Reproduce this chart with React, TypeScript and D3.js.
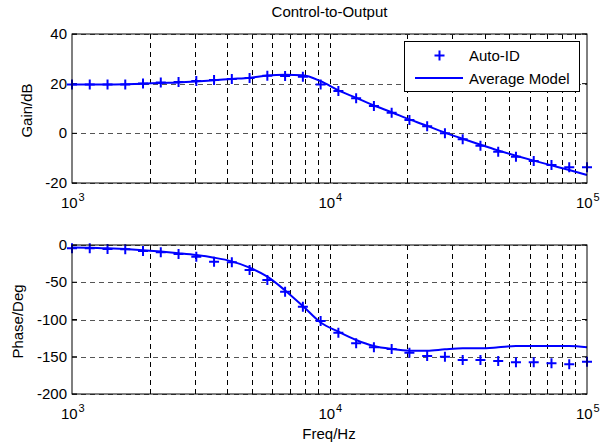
import React, { useEffect, useRef } from "react";
import * as d3 from "d3";

// measurement frequencies (Hz), log spaced
const freqs = [
  1000, 1172, 1374, 1610, 1887, 2212, 2593, 3039, 3562, 4175, 4894, 5736, 6723,
  7881, 9237, 10826, 12690, 14874, 17433, 20434, 23950, 28072, 32903, 38566,
  45204, 52983, 62102, 72790, 85317, 100000,
];

// Auto-ID measured points
const gainAutoId = [
  19.7, 19.7, 19.7, 19.7, 20.1, 20.5, 20.7, 21.1, 21.5, 21.9, 22.3, 23.2, 23.1,
  22.8, 19.7, 17.0, 14.1, 11.0, 8.3, 5.4, 2.9, 0.0, -2.4, -5.0, -7.4, -9.4,
  -11.1, -12.8, -13.7, -13.7,
];
const phaseAutoId = [
  -4.5, -4.5, -5.4, -5.8, -8.1, -9.8, -12.1, -15.7, -22.4, -23.3, -33.6, -47,
  -62.6, -82.8, -102, -117.7, -132, -137.4, -139.6, -144.5, -149, -149.9,
  -154.4, -154.4, -155.7, -157.5, -157.5, -158.8, -160.2, -156.6,
];

// Average model curve
const gainModel = [
  19.7, 19.7, 19.7, 19.8, 20.0, 20.3, 20.5, 20.9, 21.4, 21.9, 22.4, 23.3, 23.6,
  23.4, 21.0, 17.3, 14.3, 11.2, 8.5, 5.6, 3.0, 0.3, -2.2, -4.6, -6.9, -9.0,
  -11.0, -12.9, -14.8, -16.8,
];
const phaseModel = [
  -3.3, -3.6, -4.4, -5.5, -7, -8.8, -11, -13.5, -17, -22, -30.4, -42.5, -61,
  -82, -104, -116.4, -127.5, -135.6, -139.6, -141.8, -141.8, -140, -138.7,
  -138.7, -137.4, -135.6, -135.6, -135.6, -135.6, -137.4,
];

const gainTicks = [40, 20, 0, -20];
const phaseTicks = [0, -50, -100, -150, -200];
const decades = [1e3, 1e4, 1e5];
const exps = ["3", "4", "5"];

const W = 605;
const H = 446;
const left = 72;
const right = 587;
const font = "Arial, 'Liberation Sans', sans-serif";
const fs = 15;

export default function App() {
  const ref = useRef<SVGSVGElement>(null);

  useEffect(() => {
    const svg = d3.select(ref.current);
    svg.selectAll("*").remove();

    const x = d3.scaleLog().domain([1e3, 1e5]).range([left, right]);
    const minor: number[] = [];
    [1e3, 1e4].forEach((d) => {
      for (let k = 1; k <= 9; k++) if (d * k > 1e3) minor.push(d * k);
    });

    svg
      .append("text")
      .attr("x", 329.5)
      .attr("y", 17)
      .attr("text-anchor", "middle")
      .attr("font-size", fs)
      .attr("font-family", font)
      .text("Control-to-Output");

    const panel = (
      top: number,
      bottom: number,
      domain: [number, number],
      ticks: number[],
      label: string,
      labelX: number,
      labelY: number,
      auto: number[],
      model: number[],
      legend: boolean
    ) => {
      const y = d3.scaleLinear().domain(domain).range([bottom, top]);
      const g = svg.append("g");

      g.append("rect")
        .attr("x", left)
        .attr("y", top)
        .attr("width", right - left)
        .attr("height", bottom - top)
        .attr("fill", "white");

      // grid
      g.selectAll(".vg")
        .data(minor)
        .join("line")
        .attr("x1", (d) => Math.round(x(d)) + 0.5)
        .attr("x2", (d) => Math.round(x(d)) + 0.5)
        .attr("y1", top)
        .attr("y2", bottom)
        .attr("stroke", "#000")
        .attr("stroke-dasharray", "5,4");
      g.selectAll(".hg")
        .data(ticks)
        .join("line")
        .attr("x1", left)
        .attr("x2", right)
        .attr("y1", (d) => Math.round(y(d)) + 0.5)
        .attr("y2", (d) => Math.round(y(d)) + 0.5)
        .attr("stroke", "#555")
        .attr("stroke-dasharray", "5,4");

      // ticks on the y axes
      g.selectAll(".yt")
        .data(ticks)
        .join("path")
        .attr("d", (d) => `M${left},${y(d)}h5M${right},${y(d)}h-5`)
        .attr("stroke", "#000");

      // model line
      const line = d3
        .line<number>()
        .x((d, i) => x(freqs[i]))
        .y((d) => y(d))
        .curve(d3.curveMonotoneX);
      g.append("path")
        .datum(model)
        .attr("d", line)
        .attr("fill", "none")
        .attr("stroke", "#0000ff")
        .attr("stroke-width", 2);

      // plus markers
      g.selectAll(".pm")
        .data(auto)
        .join("path")
        .attr("d", (d, i) => {
          const cx = x(freqs[i]);
          const cy = y(d);
          return `M${cx - 5},${cy}h10M${cx},${cy - 5}v10`;
        })
        .attr("stroke", "#0000ff")
        .attr("stroke-width", 2);

      // frame
      g.append("rect")
        .attr("x", left)
        .attr("y", top)
        .attr("width", right - left)
        .attr("height", bottom - top)
        .attr("fill", "none")
        .attr("stroke", "#000");

      // y tick labels
      g.selectAll(".yl")
        .data(ticks)
        .join("text")
        .attr("x", 67)
        .attr("y", (d) => y(d) + 5)
        .attr("text-anchor", "end")
        .attr("font-size", fs)
        .attr("font-family", font)
        .text((d) => d);

      // x tick labels 10^n
      const xl = g
        .selectAll(".xl")
        .data(decades)
        .join("text")
        .attr("font-family", font)
        .attr("font-size", fs)
        .attr("y", bottom + 25);
      xl.append("tspan")
        .attr("x", (d) => x(d) - 11)
        .text("10");
      xl.append("tspan")
        .attr("x", (d) => x(d) + 6.5)
        .attr("dy", -7)
        .attr("font-size", 11)
        .text((d, i) => exps[i]);

      g.append("text")
        .attr("transform", `translate(${labelX},${labelY}) rotate(-90)`)
        .attr("text-anchor", "middle")
        .attr("font-size", fs)
        .attr("font-family", font)
        .text(label);

      if (legend) {
        const lg = g.append("g");
        lg.append("rect")
          .attr("x", 404.5)
          .attr("y", 41.5)
          .attr("width", 175)
          .attr("height", 50)
          .attr("fill", "white")
          .attr("stroke", "#000");
        lg.append("path")
          .attr("d", "M434.5,55.5h10M439.5,50.5v10")
          .attr("stroke", "#0000ff")
          .attr("stroke-width", 2);
        lg.append("line")
          .attr("x1", 415)
          .attr("x2", 463)
          .attr("y1", 78)
          .attr("y2", 78)
          .attr("stroke", "#0000ff")
          .attr("stroke-width", 2);
        lg.append("text")
          .attr("x", 469)
          .attr("y", 60.5)
          .attr("font-size", fs)
          .attr("font-family", font)
          .text("Auto-ID");
        lg.append("text")
          .attr("x", 469)
          .attr("y", 84)
          .attr("font-size", fs)
          .attr("font-family", font)
          .text("Average Model");
      }
    };

    panel(34, 183, [-20, 40], gainTicks, "Gain/dB", 32, 110.5, gainAutoId, gainModel, true);
    panel(245, 394, [-200, 0], phaseTicks, "Phase/Deg", 22.5, 321.5, phaseAutoId, phaseModel, false);

    svg
      .append("text")
      .attr("x", 329)
      .attr("y", 439)
      .attr("text-anchor", "middle")
      .attr("font-size", fs)
      .attr("font-family", font)
      .text("Freq/Hz");
  }, []);

  return (
    <svg
      ref={ref}
      width={W}
      height={H}
      style={{ position: "absolute", left: 0, top: 0, background: "white" }}
    />
  );
}
